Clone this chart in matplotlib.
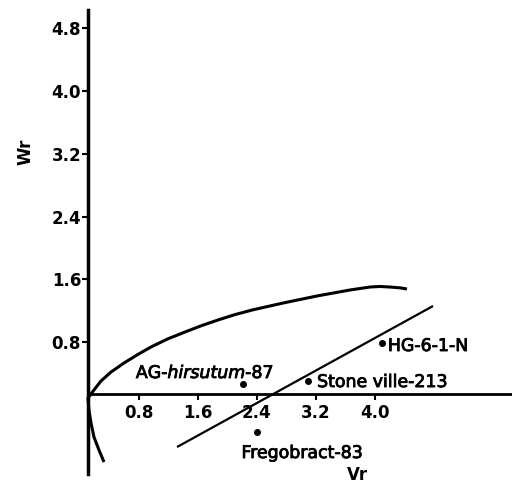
import matplotlib
matplotlib.use("Agg")
import matplotlib.pyplot as plt
import matplotlib.patheffects as pe

# limiting parabola (Vr, Wr)
parab_vr = [0.331, 0.263, 0.195, 0.155, 0.127, 0.114, 0.195, 0.290, 0.426, 0.602,
            0.778, 0.968, 1.190, 1.429, 1.650, 1.877, 2.100, 2.338, 2.758, 3.219,
            3.666, 3.937, 4.070, 4.208, 4.340, 4.439]
parab_wr = [-0.726, -0.573, -0.408, -0.229, -0.064, 0.089, 0.191, 0.306, 0.420, 0.535,
            0.637, 0.739, 0.840, 0.930, 1.010, 1.083, 1.150, 1.210, 1.299, 1.389,
            1.465, 1.503, 1.510, 1.503, 1.493, 1.478]

# regression line end points
reg_vr = [1.321, 4.792]
reg_wr = [-0.535, 1.261]

# parents
names = ['AG-$\\it{hirsutum}$-87', 'Stone ville-213', 'HG-6-1-N', 'Fregobract-83']
vr = [2.218, 3.097, 4.100, 2.405]
wr = [0.268, 0.306, 0.790, -0.344]

xticks = [0.8, 1.6, 2.4, 3.2, 4.0]
yticks = [0.8, 1.6, 2.4, 3.2, 4.0, 4.8]

fig = plt.figure(figsize=(5.12, 4.84), dpi=100)
ax = fig.add_axes([0, 0, 1, 1])
ax.patch.set_visible(False)
ax.set_xlim(-1.079, 5.863)
ax.set_ylim(-1.006, 5.159)

for s in ['top', 'right']:
    ax.spines[s].set_visible(False)
ax.spines['left'].set_position(('data', 0.115))
ax.spines['bottom'].set_position(('data', 0.14))
ax.spines['left'].set_bounds(-0.879, 5.032)
ax.spines['bottom'].set_bounds(0.115, 5.9)
ax.spines['left'].set_linewidth(2.5)
ax.spines['bottom'].set_linewidth(2.0)

ax.set_xticks(xticks)
ax.set_yticks(yticks)
ax.set_xticklabels(['%.1f' % t for t in xticks])
ax.set_yticklabels(['%.1f' % t for t in yticks])
ax.tick_params(axis='both', direction='out', length=4, width=1.5,
               labelsize=12, colors='black')
ax.tick_params(axis='y', pad=1)
ax.tick_params(axis='x', pad=3)
for lab in ax.get_xticklabels() + ax.get_yticklabels():
    lab.set_fontweight('bold')

ax.plot(parab_vr, parab_wr, color='black', lw=2.2, clip_on=False,
        solid_capstyle='butt', solid_joinstyle='round')
ax.plot(reg_vr, reg_wr, color='black', lw=1.6, solid_capstyle='butt')
ax.plot(vr, wr, 'o', color='black', ms=4)

stroke = [pe.withStroke(linewidth=0.6, foreground='black')]
ax.text(1.700, 0.344, names[0], ha='center', va='baseline', fontsize=12.5,
        path_effects=stroke)
ax.text(3.22, 0.229, names[1], ha='left', va='baseline', fontsize=12.5,
        path_effects=stroke)
ax.text(4.18, 0.688, names[2], ha='left', va='baseline', fontsize=12.5,
        path_effects=stroke)
ax.text(3.023, -0.675, names[3], ha='center', va='baseline', fontsize=12.5,
        path_effects=stroke)

ax.text(3.763, -0.955, 'Vr', ha='center', va='baseline', fontsize=12,
        fontweight='bold')
ax.text(-0.740, 3.22, 'Wr', ha='center', va='center', rotation=90,
        fontsize=12, fontweight='bold')

fig.savefig('out.png', dpi=100)
